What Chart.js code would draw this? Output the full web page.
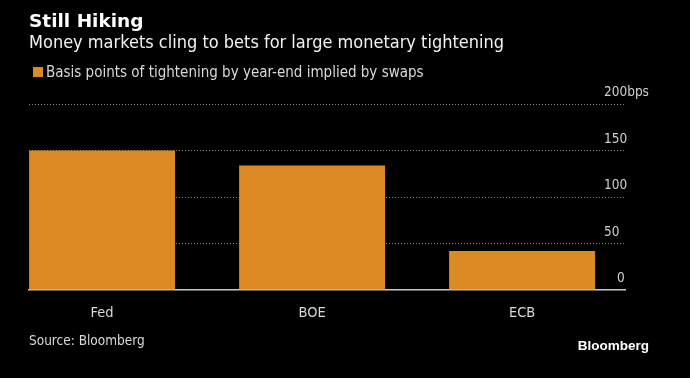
<!DOCTYPE html>
<html>
<head>
<meta charset="utf-8">
<script src="https://cdn.jsdelivr.net/npm/chart.js@4/dist/chart.umd.min.js"></script>
<style>
  html, body { margin: 0; padding: 0; background: #000; }
  #wrap { width: 690px; height: 378px; }
</style>
</head>
<body>
<div id="wrap"><canvas id="hikeChart" width="690" height="378"></canvas></div>
<script>
const banks = ["Fed", "BOE", "ECB"];
const tighteningBps = [150, 134, 42];
const yTicks = [0, 50, 100, 150, 200];
const yTickLabels = ["0", "50", "100", "150", "200bps"];

const titleText = "Still Hiking";
const subtitleText = "Money markets cling to bets for large monetary tightening";
const legendText = "Basis points of tightening by year-end implied by swaps";
const sourceText = "Source: Bloomberg";

const orange = "#DC8A26";
const condensed = '"DejaVu Sans Condensed", "DejaVu Sans", sans-serif';

// header, legend, right-hand y labels and footer
const decorPlugin = {
  id: "decor",
  beforeDraw(chart) {
    const { ctx } = chart;
    ctx.save();
    ctx.fillStyle = "#000";
    ctx.fillRect(0, 0, chart.width, chart.height);
    ctx.restore();
  },
  afterDraw(chart) {
    const { ctx, scales } = chart;
    ctx.save();
    ctx.textBaseline = "alphabetic";
    ctx.textAlign = "left";

    ctx.fillStyle = "#ffffff";
    ctx.font = 'bold 18.5px "DejaVu Sans", sans-serif';
    ctx.fillText(titleText, 29, 27);

    ctx.fillStyle = "#f2f2f2";
    ctx.font = "18px " + condensed;
    ctx.fillText(subtitleText, 29, 48);

    ctx.fillStyle = orange;
    ctx.fillRect(33, 67, 10, 10);
    ctx.fillStyle = "#d9d9d9";
    ctx.font = "15px " + condensed;
    ctx.fillText(legendText, 46, 77);

    ctx.fillStyle = "#cfcfcf";
    ctx.font = "13.5px " + condensed;
    yTicks.forEach((v, i) => {
      const y = scales.y.getPixelForValue(v);
      ctx.fillText(yTickLabels[i], i === 0 ? 617 : 604, y - 8);
    });

    ctx.fillStyle = "#d9d9d9";
    ctx.fillText(sourceText, 29, 345);

    ctx.fillStyle = "#ffffff";
    ctx.font = 'bold 13.5px "Liberation Sans", Arial, sans-serif';
    ctx.textAlign = "right";
    ctx.fillText("Bloomberg", 649, 350);
    ctx.restore();
  }
};

new Chart(document.getElementById("hikeChart"), {
  type: "bar",
  data: {
    datasets: [
      {
        label: legendText,
        data: tighteningBps.map((v, i) => ({ x: i, y: v })),
        backgroundColor: orange,
        borderWidth: 0,
        categoryPercentage: 1,
        barPercentage: 0.695
      }
    ]
  },
  options: {
    responsive: false,
    animation: false,
    layout: { padding: { top: 104, left: 29, right: 65, bottom: 0 } },
    plugins: {
      legend: { display: false },
      title: { display: false },
      tooltip: { enabled: false }
    },
    scales: {
      x: {
        type: "linear",
        offset: false,
        min: -0.348,
        max: 2.49,
        afterFit: (s) => { s.height = 88; },
        afterBuildTicks: (s) => { s.ticks = banks.map((_, i) => ({ value: i })); },
        grid: { display: false },
        border: { display: true, color: "#c8c8c8", width: 1.5 },
        ticks: {
          color: "#d9d9d9",
          padding: 7,
          maxRotation: 0,
          font: { family: condensed, size: 14.5 },
          callback: (v) => banks[v]
        }
      },
      y: {
        position: "right",
        min: 0,
        max: 200,
        afterFit: (s) => { s.width = 0; },
        afterBuildTicks: (s) => { s.ticks = yTicks.map((v) => ({ value: v })); },
        ticks: { display: false },
        border: { display: false, dash: [1, 2] },
        grid: {
          drawTicks: false,
          lineWidth: 1,
          color: (c) => (c.tick && c.tick.value === 0 ? "rgba(0,0,0,0)" : "#8a8a8a")
        }
      }
    }
  },
  plugins: [decorPlugin]
});
</script>
</body>
</html>
